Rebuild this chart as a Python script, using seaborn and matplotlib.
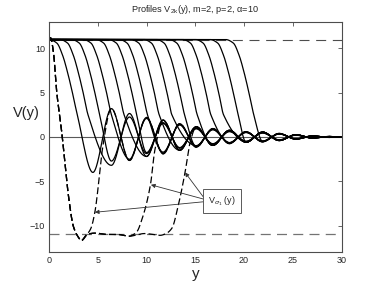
import numpy as np
import pandas as pd
import matplotlib
matplotlib.use("Agg")
import matplotlib.pyplot as plt
import seaborn as sns

# ---- values ----
level = 11.0                      # plateau / dashed reference level
# solid profiles V_2k: where each front passes V=5
front_y = [2.4, 3.5, 4.7, 5.9, 7.2, 8.5, 9.6, 10.8, 12.1, 13.4, 14.7, 16.1, 17.4, 18.9, 20.5]
# index of the eye (oscillation lobe) where each profile makes its first dip
first_eye = [0, 1, 1, 2, 3, 3, 4, 5, 6, 6, 7, 8, 9, 9, 10]
curve_gain = [1.0, 1.0, 0.85, 0.95, 1.0, 0.8, 0.9, 1.0, 0.85, 0.95, 1.0, 0.85, 0.9, 1.0, 0.9]
# shape of one front, measured on the right-most profile (offset from its V=5 point)
front_dy = [-2.4, -1.6, -1.0, -0.5, 0.0, 0.5]
front_v = [11.0, 10.6, 9.2, 7.3, 5.0, 2.5]
# centres and heights of the oscillation lobes around V=0
eye_y = [4.5, 6.4, 8.25, 10.0, 11.7, 13.4, 15.1, 16.8, 18.5, 20.2, 21.9, 23.6, 25.3, 27.0, 28.7]
eye_amp = [4.0, 3.2, 2.65, 2.2, 1.9, 1.5, 1.15, 0.95, 0.75, 0.6, 0.55, 0.4, 0.25, 0.12, 0.05]

# dashed V_sigma1 profiles: common drop to -11, then the rise back to zero
drop_y = [0.0, 0.15, 0.45, 0.8, 1.3, 2.0, 2.5, 3.0, 3.3, 3.9]
drop_v = [11.0, 11.2, 9.6, 5.0, 0.6, -6.7, -10.1, -11.3, -11.7, -11.0]
rise_y = [[4.3, 4.7, 5.2, 5.5],
          [4.7, 6.0, 7.0, 8.2, 9.0, 9.5, 10.4, 10.85],
          [4.7, 6.0, 7.0, 8.2, 9.8, 11.4, 12.0, 12.6, 13.3, 13.95, 14.45]]
rise_v = [[-10.3, -8.5, -4.1, -1.2],
          [-10.85, -11.0, -11.0, -11.2, -10.7, -9.4, -5.4, -1.5],
          [-10.85, -11.0, -11.0, -11.2, -10.9, -11.1, -10.9, -10.3, -7.5, -4.0, -0.7]]
rise_eye = [1, 4, 6]

# arrow heads of the V_sigma1 label
arrow_to = [(4.7, -8.5), (10.45, -5.4), (13.95, -4.0)]
arrow_from = [(15.98, -7.3), (15.98, -7.05), (15.98, -7.0)]


def smooth_through(xk, vk, x):
    # shape preserving cubic through the read points (flat at extrema)
    xk = np.asarray(xk, float)
    vk = np.asarray(vk, float)
    h = np.diff(xk)
    d = np.diff(vk) / h
    m = np.zeros_like(xk)
    for i in range(1, len(xk) - 1):
        if d[i - 1] * d[i] > 0:
            w1 = 2 * h[i] + h[i - 1]
            w2 = h[i] + 2 * h[i - 1]
            m[i] = (w1 + w2) / (w1 / d[i - 1] + w2 / d[i])
    idx = np.clip(np.searchsorted(xk, x) - 1, 0, len(h) - 1)
    t = (x - xk[idx]) / h[idx]
    h00 = 2 * t**3 - 3 * t**2 + 1
    h10 = t**3 - 2 * t**2 + t
    h01 = -2 * t**3 + 3 * t**2
    h11 = t**3 - t**2
    return (h00 * vk[idx] + h10 * h[idx] * m[idx]
            + h01 * vk[idx + 1] + h11 * h[idx] * m[idx + 1])


def lobes(start, sign, gain=1.0):
    ky, kv = [], []
    for j in range(start, len(eye_y)):
        ky.append(eye_y[j])
        kv.append(sign * eye_amp[j] * gain)
        sign = -sign
    return ky + [30.0], kv + [0.0]


grid = np.linspace(0, 30, 1500)

rows = []
for k, f in enumerate(front_y):
    ky, kv = [0.0], [level]
    for dy, v in zip(front_dy, front_v):
        if f + dy > 0.05:
            ky.append(f + dy)
            kv.append(v)
    ly, lv = lobes(first_eye[k], -1, curve_gain[k])
    ky += ly
    kv += lv
    rows.append(pd.DataFrame({"y": grid, "V": smooth_through(ky, kv, grid), "curve": k}))
solid = pd.concat(rows)

rows = []
for k in range(3):
    ly, lv = lobes(rise_eye[k], 1)
    ky = drop_y + rise_y[k] + ly
    kv = drop_v + rise_v[k] + lv
    rows.append(pd.DataFrame({"y": grid, "V": smooth_through(ky, kv, grid), "curve": k}))
dashed = pd.concat(rows)

# ---- figure ----
sns.set_style("white")
plt.rcParams["font.family"] = ["Liberation Sans", "DejaVu Sans"]

fig = plt.figure(figsize=(3.77, 2.83), dpi=100)
ax = fig.add_axes([0.130, 0.109, 0.776, 0.814])

ax.axhline(0, color="0.35", lw=0.8, zorder=1)
ax.axhline(level, color="0.3", lw=0.8, ls=(0, (9, 6)), zorder=1)
ax.axhline(-level, color="0.45", lw=0.9, ls=(0, (8, 5)), zorder=1)

sns.lineplot(data=solid, x="y", y="V", units="curve", estimator=None, sort=False,
             color="k", lw=0.9, legend=False, ax=ax)
sns.lineplot(data=dashed, x="y", y="V", units="curve", estimator=None, sort=False,
             color="k", lw=0.9, linestyle=(0, (5.5, 2.5)), legend=False, ax=ax)

for tail, head in zip(arrow_from, arrow_to):
    ax.annotate("", xy=head, xytext=tail,
                arrowprops=dict(arrowstyle="-|>", color="0.2", lw=0.6,
                                mutation_scale=6, shrinkA=0, shrinkB=0))
ax.text(17.75, -7.2, r"V$_{\sigma_1}$ (y)", fontsize=6.5, ha="center", va="center",
        bbox=dict(boxstyle="square,pad=0.6", fc="white", ec="0.35", lw=0.7))

ax.set_xlim(0, 30)
ax.set_ylim(-13, 13)
ax.set_xticks(range(0, 31, 5))
ax.set_yticks([-10, -5, 0, 5, 10])
ax.tick_params(direction="in", length=3, width=0.6, top=True, right=True,
               labelsize=6.5, color="0.3", pad=3)
for s in ax.spines.values():
    s.set_color("0.3")
    s.set_linewidth(0.8)

ax.set_title("Profiles V$_\\mathregular{2k}$(y), m=2, p=2, α=10", fontsize=6.6, pad=7)
ax.set_xlabel("y", fontsize=11, labelpad=1)
ax.set_ylabel("V(y)", fontsize=10.5, rotation=0, ha="center", va="center")
ax.yaxis.set_label_coords(-0.079, 0.604)

fig.savefig("out.png", dpi=100)
